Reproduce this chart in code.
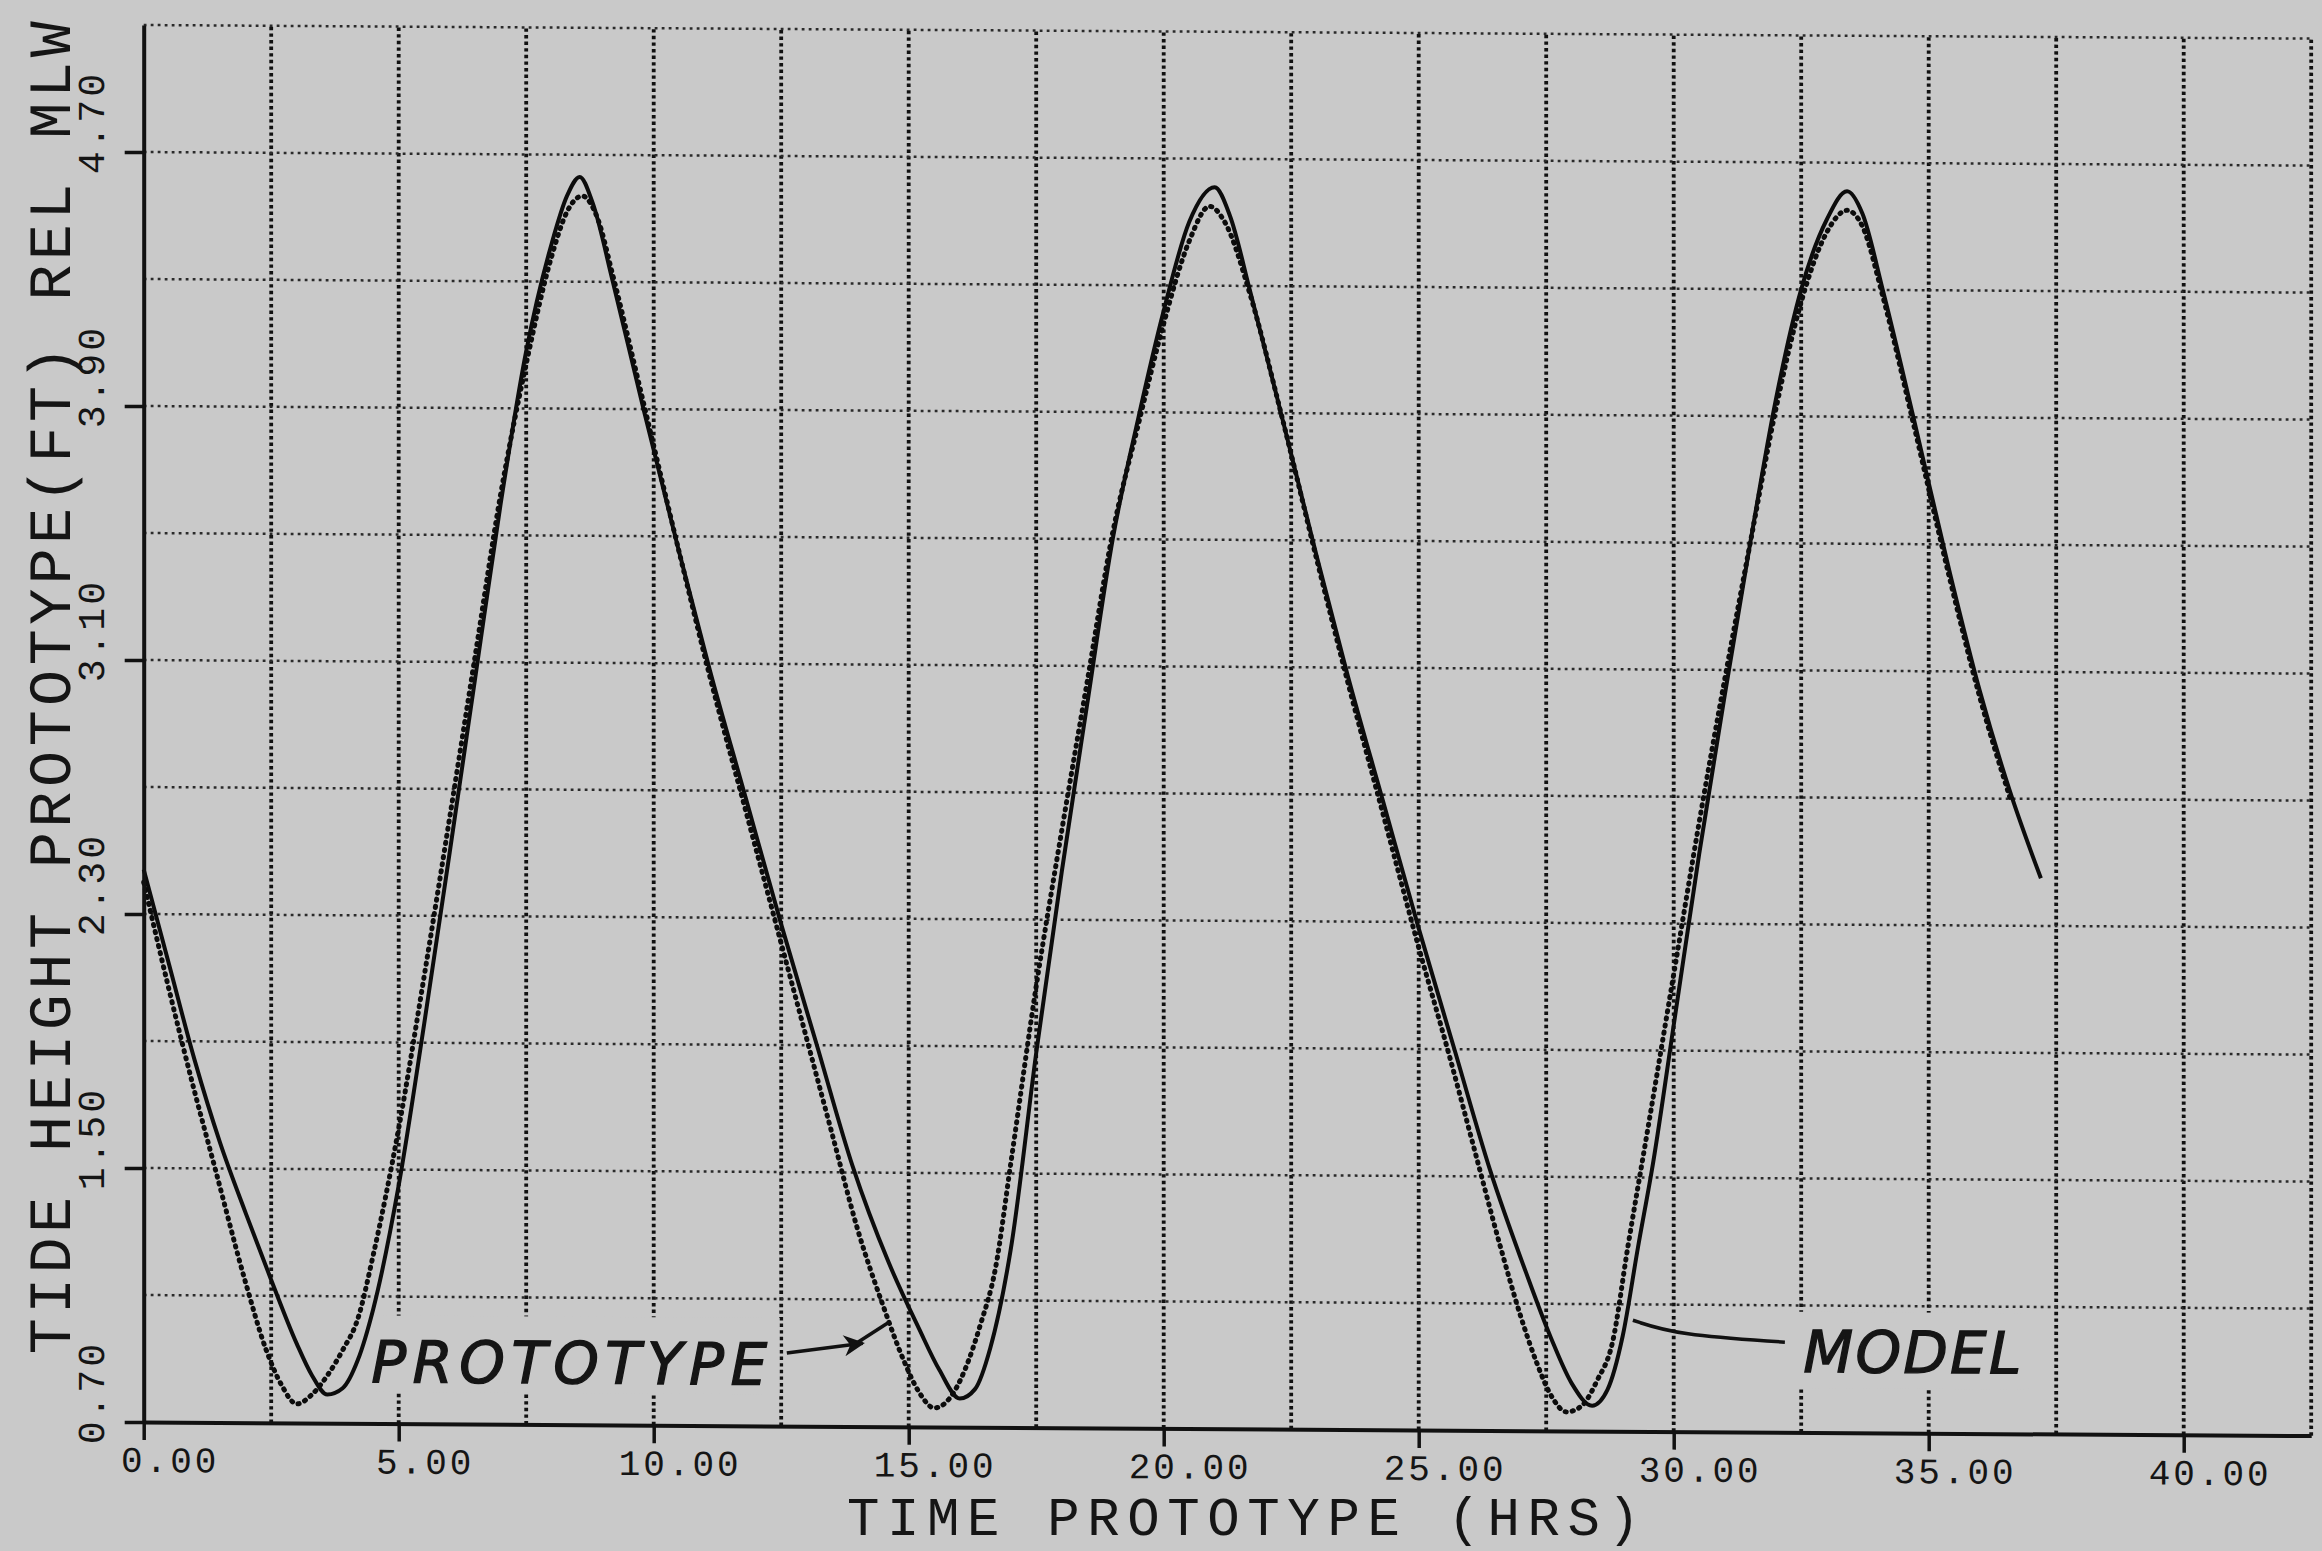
<!DOCTYPE html>
<html>
<head>
<meta charset="utf-8">
<script src="https://cdn.jsdelivr.net/npm/d3@7"></script>
<style>
  body { margin: 0; background: #c9c9c9; }
  svg { display: block; }
  text { font-family: "Liberation Mono", "DejaVu Sans Mono", monospace; fill: #151515; }
  .note { font-family: "DejaVu Sans", sans-serif; font-style: italic; stroke: #151515; stroke-width: 1.3px; }
</style>
</head>
<body>
<div id="chart"></div>
<script>
// Data (hours, feet rel MLW)
const modelTime = [0, 0.5, 1, 1.5, 2, 2.5, 3, 3.3, 3.6, 3.9, 4.2, 4.5, 5, 5.5, 6, 6.5, 7, 7.5, 8, 8.3,
  8.55, 8.8, 9.2, 9.8, 10.5, 11.1, 11.8, 12.5, 13.2, 13.9, 14.6, 15.2, 15.6, 16, 16.3, 16.6, 17, 17.5, 18, 18.5,
  19, 19.5, 20, 20.5, 21, 21.3, 21.7, 22.3, 23, 23.6, 24.3, 25, 25.7, 26.4, 27.1, 27.6, 28, 28.4, 28.7, 29,
  29.3, 29.6, 30, 30.5, 31, 31.5, 32, 32.5, 33, 33.4, 33.7, 34.1, 34.7, 35.4, 36, 36.6, 37.2];
const modelHeight = [2.44, 2.14, 1.84, 1.58, 1.36, 1.15, 0.95, 0.85, 0.79, 0.81, 0.90, 1.06, 1.45, 1.96, 2.50, 3.05, 3.60, 4.08, 4.42, 4.57,
  4.63, 4.55, 4.30, 3.90, 3.45, 3.08, 2.68, 2.28, 1.90, 1.52, 1.22, 1.01, 0.88, 0.79, 0.82, 0.95, 1.26, 1.88, 2.45, 2.98,
  3.50, 3.88, 4.22, 4.50, 4.61, 4.52, 4.28, 3.90, 3.45, 3.08, 2.68, 2.28, 1.90, 1.52, 1.20, 0.99, 0.85, 0.78, 0.83, 1.00,
  1.28, 1.55, 1.98, 2.52, 3.02, 3.50, 3.95, 4.30, 4.52, 4.61, 4.54, 4.30, 3.90, 3.42, 3.04, 2.72, 2.45];

const protoTime = [0, 0.5, 1, 1.4, 2, 2.4, 2.7, 3, 3.3, 3.6, 3.9, 4.2, 4.5, 5, 5.5, 6, 6.5, 7, 7.5, 8,
  8.3, 8.6, 8.9, 9.2, 9.8, 10.5, 11.1, 11.8, 12.5, 13, 13.5, 14, 14.5, 14.9, 15.2, 15.5, 15.8, 16.1, 16.4, 16.7,
  17, 17.5, 18, 18.5, 19, 19.5, 20, 20.5, 20.9, 21.2, 21.7, 22.3, 23, 23.6, 24.3, 25, 25.6, 26.1, 26.6, 27,
  27.3, 27.6, 27.9, 28.2, 28.5, 28.8, 29.1, 29.5, 30, 30.5, 31, 31.5, 32, 32.5, 33, 33.4, 33.7, 34.1, 34.7, 35.4,
  36, 36.6];
const protoHeight = [2.40, 2.06, 1.74, 1.50, 1.14, 0.93, 0.82, 0.76, 0.79, 0.85, 0.93, 1.03, 1.23, 1.63, 2.11, 2.61, 3.12, 3.63, 4.04, 4.38,
  4.52, 4.57, 4.50, 4.32, 3.92, 3.45, 3.06, 2.64, 2.22, 1.92, 1.62, 1.32, 1.08, 0.91, 0.81, 0.76, 0.79, 0.88, 1.02, 1.20,
  1.53, 2.09, 2.58, 3.05, 3.52, 3.86, 4.18, 4.44, 4.55, 4.50, 4.27, 3.90, 3.44, 3.06, 2.64, 2.22, 1.88, 1.58, 1.28, 1.06,
  0.92, 0.81, 0.76, 0.78, 0.86, 0.98, 1.28, 1.66, 2.14, 2.62, 3.07, 3.50, 3.92, 4.26, 4.48, 4.55, 4.50, 4.28, 3.88, 3.40,
  3.02, 2.70];

// Tick labels
const xTickValues = [0, 5, 10, 15, 20, 25, 30, 35, 40];
const yTickValues = [0.70, 1.50, 2.30, 3.10, 3.90, 4.70];
const xTitle = "TIME PROTOTYPE (HRS)";
const yTitle = "TIDE HEIGHT PROTOTYPE(FT) REL MLW";

// Annotations (text anchor and leader lines, in data units)
const protoLabel = { text: "PROTOTYPE", t: 4.46, h: 0.83 };
const protoLeader = [[12.61, 0.93], [14.1, 0.962]];
const protoLeaderTail = [[13.95, 0.96], [14.62, 1.03]];
const modelLabel = { text: "MODEL", t: 32.54, h: 0.89 };
const modelLeader = [[32.18, 0.984], [30.08, 1.004], [29.2, 1.05]];

function draw() {
  // Dimensions
  const dimensions = {
    width: 2322,
    height: 1551,
    left: 143.7,
    bottom: 1422,
    hourPx: 51.0,
    footPx: 317.5,
    skew: 0.36,
  };

  const xMax = 42.5;
  const yMin = 0.7;
  const yMax = 5.1;
  const paper = "#c9c9c9";

  // Scales
  const xScale = d3
    .scaleLinear()
    .domain([0, xMax])
    .range([dimensions.left, dimensions.left + xMax * dimensions.hourPx]);

  const yScale = d3
    .scaleLinear()
    .domain([yMin, yMax])
    .range([dimensions.bottom, dimensions.bottom - (yMax - yMin) * dimensions.footPx]);

  // SVG Image
  const svg = d3
    .select("#chart")
    .append("svg")
    .attr("width", dimensions.width)
    .attr("height", dimensions.height)
    .attr("viewBox", `0 0 ${dimensions.width} ${dimensions.height}`);

  svg.append("rect").attr("width", dimensions.width).attr("height", dimensions.height).attr("fill", paper);

  // the scanned sheet sags a little to the right
  const ctr = svg
    .append("g")
    .attr(
      "transform",
      `translate(${dimensions.left},0) skewY(${dimensions.skew}) translate(${-dimensions.left},0)`
    );

  // Grid
  ctr
    .append("g")
    .selectAll("line")
    .data(d3.range(2.5, xMax + 0.01, 2.5))
    .join("line")
    .attr("x1", (d) => xScale(d))
    .attr("x2", (d) => xScale(d))
    .attr("y1", yScale(yMin))
    .attr("y2", yScale(yMax))
    .attr("stroke", "#111")
    .attr("stroke-width", 3.8)
    .attr("stroke-dasharray", "3.4 3.2");

  ctr
    .append("g")
    .selectAll("line")
    .data(d3.range(1.1, yMax + 0.01, 0.4))
    .join("line")
    .attr("x1", xScale(0))
    .attr("x2", xScale(xMax))
    .attr("y1", (d) => yScale(d))
    .attr("y2", (d) => yScale(d))
    .attr("stroke", "#2a2a2a")
    .attr("stroke-width", 2.5)
    .attr("stroke-dasharray", "2.8 4.2");

  // Label patches (the lettering was pasted over the grid)
  const patches = [
    [4.45, 12.47, 0.8, 1.04],
    [32.4, 36.95, 0.84, 1.08],
  ];
  ctr
    .append("g")
    .selectAll("rect")
    .data(patches)
    .join("rect")
    .attr("x", (d) => xScale(d[0]))
    .attr("width", (d) => xScale(d[1]) - xScale(d[0]))
    .attr("y", (d) => yScale(d[3]))
    .attr("height", (d) => yScale(d[2]) - yScale(d[3]))
    .attr("fill", paper);

  // Lines
  const line = d3
    .line()
    .x((d) => xScale(d[0]))
    .y((d) => yScale(d[1]))
    .curve(d3.curveMonotoneX);

  const protoData = d3.zip(protoTime, protoHeight);
  const modelData = d3.zip(modelTime, modelHeight);

  ctr
    .append("path")
    .datum(protoData)
    .attr("d", line)
    .attr("fill", "none")
    .attr("stroke", "#0c0c0c")
    .attr("stroke-width", 5)
    .attr("stroke-linecap", "round")
    .attr("stroke-dasharray", "1.2 6");

  ctr
    .append("path")
    .datum(modelData)
    .attr("d", line)
    .attr("fill", "none")
    .attr("stroke", "#0c0c0c")
    .attr("stroke-width", 4)
    .attr("stroke-linejoin", "round");

  // Draw Axes
  const xAxis = d3
    .axisBottom(xScale)
    .tickValues(xTickValues)
    .tickSize(18)
    .tickSizeOuter(0)
    .tickFormat(d3.format(".2f"));

  const yAxis = d3
    .axisLeft(yScale)
    .tickValues(yTickValues)
    .tickSize(19)
    .tickSizeOuter(0)
    .tickFormat(d3.format(".2f"));

  const xAxisG = ctr
    .append("g")
    .attr("transform", `translate(0, ${dimensions.bottom})`)
    .call(xAxis);

  xAxisG
    .selectAll("text")
    .attr("x", 26)
    .attr("y", 50)
    .attr("dy", 0)
    .attr("text-anchor", "middle")
    .style("font-size", "36px")
    .style("letter-spacing", "3px");

  const yAxisG = ctr
    .append("g")
    .attr("transform", `translate(${dimensions.left}, 0)`)
    .call(yAxis);

  yAxisG
    .selectAll("text")
    .attr("x", null)
    .attr("dy", 0)
    .attr("text-anchor", "start")
    .attr("transform", "translate(-40, 22) rotate(-90)")
    .style("font-size", "38px")
    .style("letter-spacing", "3px");

  [xAxisG, yAxisG].forEach((g) => {
    g.attr("font-family", null).attr("font-size", null);
    g.select(".domain").attr("stroke", "#111").attr("stroke-width", 4);
    g.selectAll(".tick line").attr("stroke", "#111").attr("stroke-width", 3.5);
  });

  // Axis titles
  svg
    .append("text")
    .attr("x", 847)
    .attr("y", 1535)
    .attr("textLength", 793)
    .attr("lengthAdjust", "spacing")
    .style("font-size", "54px")
    .text(xTitle);

  ctr
    .append("text")
    .attr("transform", "translate(70, 1355) rotate(-90)")
    .attr("textLength", 1333)
    .attr("lengthAdjust", "spacing")
    .style("font-size", "60px")
    .text(yTitle);

  // Annotations
  ctr
    .append("text")
    .classed("note", true)
    .attr("x", xScale(protoLabel.t))
    .attr("y", yScale(protoLabel.h))
    .attr("textLength", 396)
    .attr("lengthAdjust", "spacing")
    .style("font-size", "58px")
    .text(protoLabel.text);

  ctr
    .append("text")
    .classed("note", true)
    .attr("x", xScale(modelLabel.t))
    .attr("y", yScale(modelLabel.h))
    .attr("textLength", 218)
    .attr("lengthAdjust", "spacing")
    .style("font-size", "58px")
    .text(modelLabel.text);

  svg
    .append("defs")
    .append("marker")
    .attr("id", "head")
    .attr("viewBox", "0 0 10 10")
    .attr("refX", 9)
    .attr("refY", 5)
    .attr("markerWidth", 8)
    .attr("markerHeight", 6)
    .attr("orient", "auto")
    .append("path")
    .attr("d", "M0,0 L10,5 L0,10 L3,5 Z")
    .attr("fill", "#111");

  const leader = d3
    .line()
    .x((d) => xScale(d[0]))
    .y((d) => yScale(d[1]))
    .curve(d3.curveBasis);

  ctr
    .append("path")
    .attr("d", leader(protoLeader))
    .attr("fill", "none")
    .attr("stroke", "#111")
    .attr("stroke-width", 3.5)
    .attr("marker-end", "url(#head)");

  ctr
    .append("path")
    .attr("d", leader(protoLeaderTail))
    .attr("fill", "none")
    .attr("stroke", "#111")
    .attr("stroke-width", 3.5);

  ctr
    .append("path")
    .attr("d", leader(modelLeader))
    .attr("fill", "none")
    .attr("stroke", "#111")
    .attr("stroke-width", 3.5);
}

draw();
</script>
</body>
</html>
